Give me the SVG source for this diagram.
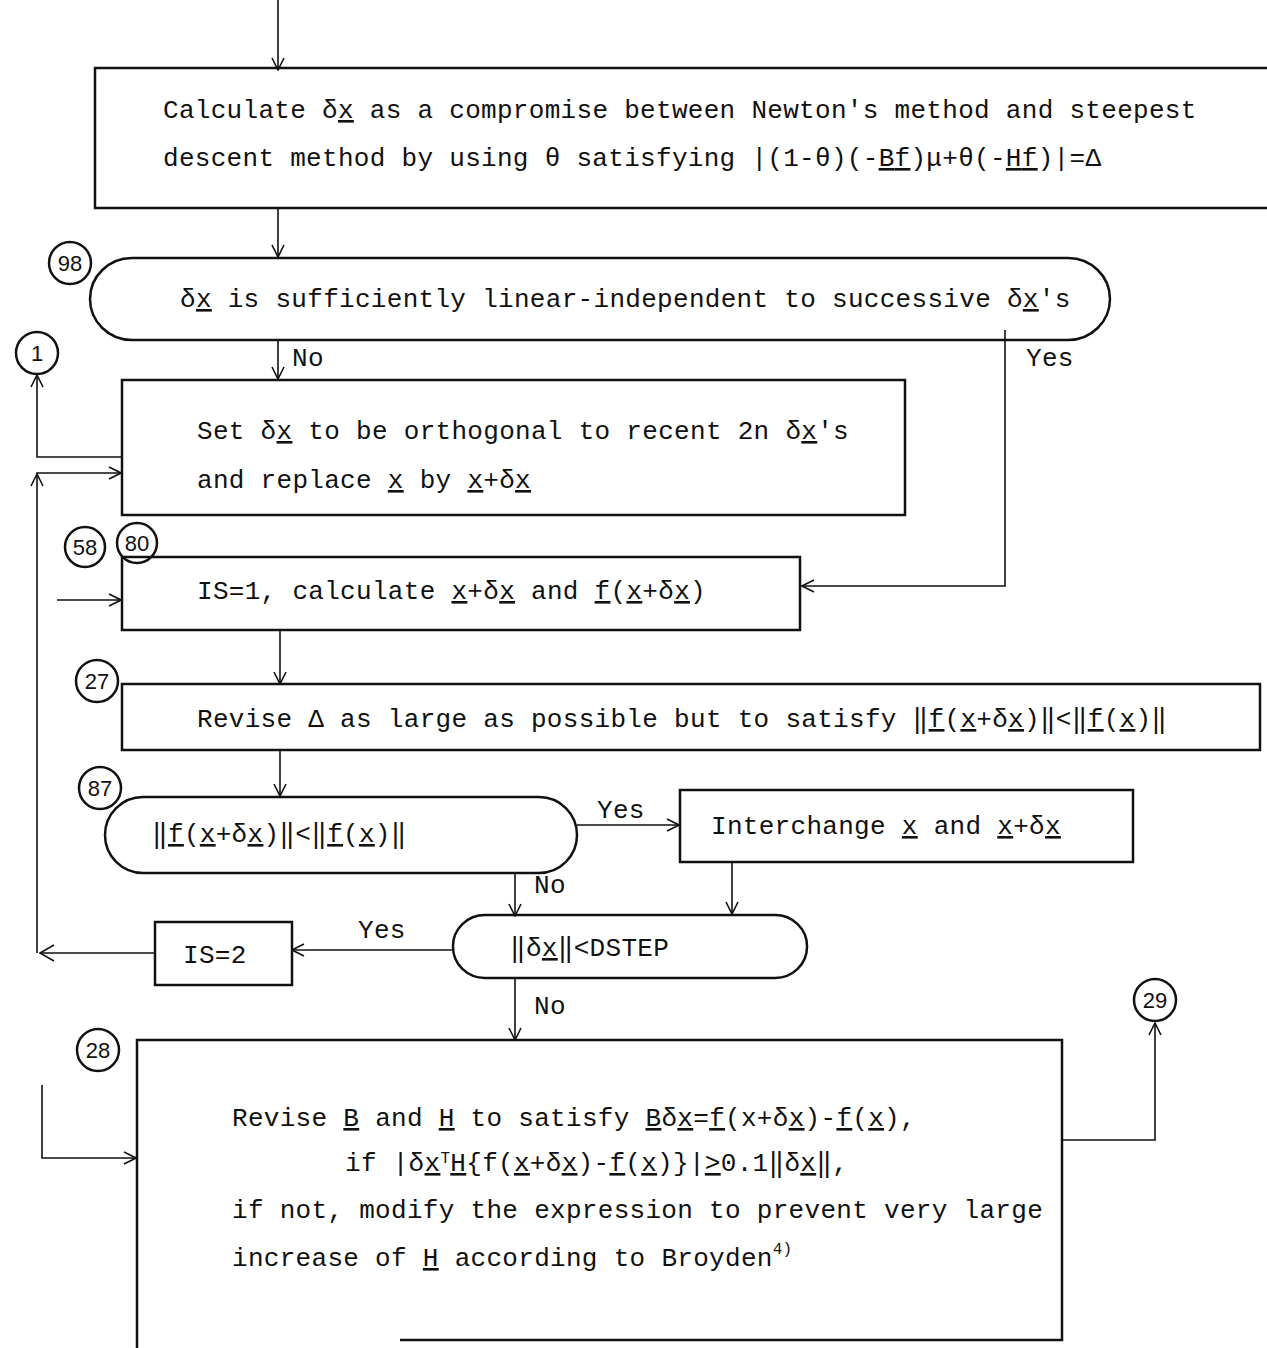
<svg xmlns="http://www.w3.org/2000/svg" width="1267" height="1348" viewBox="0 0 1267 1348">
  <style>
    .box { fill: none; stroke: #111; stroke-width: 2.5; }
    .ln { fill: none; stroke: #111; stroke-width: 1.6; }
    .t { font-family: "Liberation Mono", "DejaVu Sans Mono", monospace; font-size: 26px; fill: #111; letter-spacing: 0.3px; }
    .n { font-family: "Liberation Sans", "DejaVu Sans", sans-serif; font-size: 22px; fill: #111; text-anchor: middle; }
    .u { text-decoration: underline; }
    .sup { font-size: 16px; }
  </style>
  <defs>
    <marker id="arr" viewBox="0 0 14 14" refX="13" refY="7" markerWidth="14" markerHeight="14" markerUnits="userSpaceOnUse" orient="auto">
      <path d="M1 1 L13 7 L1 13" fill="none" stroke="#111" stroke-width="1.6"/>
    </marker>
  </defs>
  <rect width="1267" height="1348" fill="#fff"/>

  <!-- connectors -->
  <g id="connectors">
    <path class="ln" d="M278 0 V70" marker-end="url(#arr)"/>
    <path class="ln" d="M278 208 V257" marker-end="url(#arr)"/>
    <path class="ln" d="M278 340 V379" marker-end="url(#arr)"/>
    <path class="ln" d="M1005 330 V586 H802" marker-end="url(#arr)"/>
    <path class="ln" d="M122 457 H37 V375" marker-end="url(#arr)"/>
    <path class="ln" d="M155 953 H40"/>
    <path class="ln" d="M54 945 L40 953 L54 961"/>
    <path class="ln" d="M37 953 V473 H121" marker-end="url(#arr)"/>
    <path class="ln" d="M31 486 L37 474 L43 486"/>
    <path class="ln" d="M57 600 H121" marker-end="url(#arr)"/>
    <path class="ln" d="M280 630 V684" marker-end="url(#arr)"/>
    <path class="ln" d="M280 750 V796" marker-end="url(#arr)"/>
    <path class="ln" d="M577 825 H679" marker-end="url(#arr)"/>
    <path class="ln" d="M732 862 V914" marker-end="url(#arr)"/>
    <path class="ln" d="M515 873 V916" marker-end="url(#arr)"/>
    <path class="ln" d="M453 950 H292" marker-end="url(#arr)"/>
    <path class="ln" d="M515 978 V1040" marker-end="url(#arr)"/>
    <path class="ln" d="M1062 1140 H1155 V1023" marker-end="url(#arr)"/>
    <path class="ln" d="M42 1085 V1158 H136" marker-end="url(#arr)"/>
    <text class="t" x="292" y="366">No</text>
    <text class="t" x="1026" y="366">Yes</text>
    <text class="t" x="597" y="818">Yes</text>
    <text class="t" x="534" y="893">No</text>
    <text class="t" x="358" y="938">Yes</text>
    <text class="t" x="534" y="1014">No</text>
  </g>

  <!-- connector labels (numbered circles) -->
  <g id="c98"><circle cx="70" cy="263" r="21" class="box" stroke-width="2"/><text class="n" x="70" y="271">98</text></g>
  <g id="c1"><circle cx="37" cy="353" r="21" class="box" stroke-width="2"/><text class="n" x="37" y="361">1</text></g>
  <g id="c58"><circle cx="85" cy="547" r="20" class="box" stroke-width="2"/><text class="n" x="85" y="555">58</text></g>
  <g id="c80"><circle cx="137" cy="543" r="20" class="box" stroke-width="2"/><text class="n" x="137" y="551">80</text></g>
  <g id="c27"><circle cx="97" cy="681" r="21" class="box" stroke-width="2"/><text class="n" x="97" y="689">27</text></g>
  <g id="c87"><circle cx="100" cy="788" r="21" class="box" stroke-width="2"/><text class="n" x="100" y="796">87</text></g>
  <g id="c28"><circle cx="98" cy="1050" r="21" class="box" stroke-width="2"/><text class="n" x="98" y="1058">28</text></g>
  <g id="c29"><circle cx="1155" cy="1000" r="21" class="box" stroke-width="2"/><text class="n" x="1155" y="1008">29</text></g>

  <!-- step: compromise direction -->
  <g id="calc">
    <path class="box" d="M1275 68 H95 V208 H1275"/>
    <text class="t" x="163" y="118">Calculate δ<tspan class="u">x</tspan> as a compromise between Newton's method and steepest</text>
    <text class="t" x="163" y="166">descent method by using θ satisfying |(1-θ)(-<tspan class="u">B</tspan><tspan class="u">f</tspan>)μ+θ(-<tspan class="u">H</tspan><tspan class="u">f</tspan>)|=Δ</text>
  </g>

  <!-- decision: linear independence -->
  <g id="indep">
    <rect class="box" x="90" y="258" width="1020" height="82" rx="42" ry="41"/>
    <text class="t" x="180" y="307">δ<tspan class="u">x</tspan> is sufficiently linear-independent to successive δ<tspan class="u">x</tspan>'s</text>
  </g>

  <!-- step: orthogonalise -->
  <g id="ortho">
    <rect class="box" x="122" y="380" width="783" height="135"/>
    <text class="t" x="197" y="439">Set δ<tspan class="u">x</tspan> to be orthogonal to recent 2n δ<tspan class="u">x</tspan>'s</text>
    <text class="t" x="197" y="488">and replace <tspan class="u">x</tspan> by <tspan class="u">x</tspan>+δ<tspan class="u">x</tspan></text>
  </g>

  <!-- step: evaluate -->
  <g id="eval">
    <rect class="box" x="122" y="557" width="678" height="73"/>
    <text class="t" x="197" y="599">IS=1, calculate <tspan class="u">x</tspan>+δ<tspan class="u">x</tspan> and <tspan class="u">f</tspan>(<tspan class="u">x</tspan>+δ<tspan class="u">x</tspan>)</text>
  </g>

  <!-- step: revise delta -->
  <g id="revdelta">
    <rect class="box" x="122" y="684" width="1138" height="66"/>
    <text class="t" x="197" y="727">Revise Δ as large as possible but to satisfy ‖<tspan class="u">f</tspan>(<tspan class="u">x</tspan>+δ<tspan class="u">x</tspan>)‖&lt;‖<tspan class="u">f</tspan>(<tspan class="u">x</tspan>)‖</text>
  </g>

  <!-- decision: norm decreased -->
  <g id="dec87">
    <rect class="box" x="105" y="797" width="472" height="76" rx="38" ry="38"/>
    <text class="t" x="152" y="842">‖<tspan class="u">f</tspan>(<tspan class="u">x</tspan>+δ<tspan class="u">x</tspan>)‖&lt;‖<tspan class="u">f</tspan>(<tspan class="u">x</tspan>)‖</text>
  </g>

  <!-- step: interchange -->
  <g id="swap">
    <rect class="box" x="680" y="790" width="453" height="72"/>
    <text class="t" x="711" y="834">Interchange <tspan class="u">x</tspan> and <tspan class="u">x</tspan>+δ<tspan class="u">x</tspan></text>
  </g>

  <!-- decision: step size -->
  <g id="dstep">
    <rect class="box" x="453" y="915" width="354" height="63" rx="32" ry="31"/>
    <text class="t" x="510" y="956">‖δ<tspan class="u">x</tspan>‖&lt;DSTEP</text>
  </g>

  <!-- step: IS=2 -->
  <g id="is2">
    <rect class="box" x="155" y="922" width="137" height="63"/>
    <text class="t" x="183" y="963">IS=2</text>
  </g>

  <!-- step: Broyden update -->
  <g id="update">
    <path class="box" d="M137 1350 V1040 H1062 V1340 H400"/>
    <text class="t" x="232" y="1126">Revise <tspan class="u">B</tspan> and <tspan class="u">H</tspan> to satisfy <tspan class="u">B</tspan>δ<tspan class="u">x</tspan>=<tspan class="u">f</tspan>(x+δ<tspan class="u">x</tspan>)-<tspan class="u">f</tspan>(<tspan class="u">x</tspan>),</text>
    <text class="t" x="345" y="1171">if |δ<tspan class="u">x</tspan><tspan class="sup" dy="-8">T</tspan><tspan class="u" dy="8">H</tspan>{f(<tspan class="u">x</tspan>+δ<tspan class="u">x</tspan>)-<tspan class="u">f</tspan>(<tspan class="u">x</tspan>)}|<tspan class="u">&gt;</tspan>0.1‖δ<tspan class="u">x</tspan>‖,</text>
    <text class="t" x="232" y="1218">if not, modify the expression to prevent very large</text>
    <text class="t" x="232" y="1266">increase of <tspan class="u">H</tspan> according to Broyden<tspan class="sup" dy="-12">4)</tspan></text>
  </g>
</svg>
